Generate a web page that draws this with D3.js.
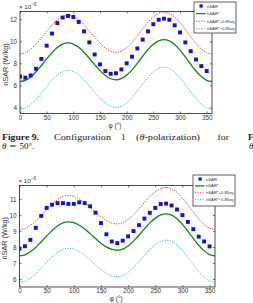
<!DOCTYPE html>
<html>
<head>
<meta charset="utf-8">
<script src="https://cdn.jsdelivr.net/npm/d3@7/dist/d3.min.js"></script>
<style>
  body { margin: 0; background: #fff; }
  svg { display: block; }
  .tick text { font-family: "Liberation Sans", Arial, sans-serif; font-size: 6.3px; fill: #333; }
</style>
</head>
<body>
<div id="page"></div>
<script>
// ======================================================================================================
// values (units of 1e-6 W/kg)
const phi = [0, 10, 20, 30, 40, 50, 60, 70, 80, 90, 100, 110, 120, 130, 140, 150, 160, 170, 180,
             190, 200, 210, 220, 230, 240, 250, 260, 270, 280, 290, 300, 310, 320, 330, 340, 350, 360];
const xTicks = [0, 50, 100, 150, 200, 250, 300, 350];
const legendLabels = ["nSAR", "nSAR*", "nSAR*+0.85\u03c3", "nSAR*\u22120.85\u03c3"];

// Figure 9 (top panel)
const topTicksY = [4, 6, 8, 10, 12];
const topMeas = [6.8, 6.7, 6.9, 7.5, 8.4, 9.6, 10.7, 11.65, 12.15, 12.3, 12.2, 11.75, 10.9, 9.9, 8.8, 7.9, 7.3, 7.05,
                 7.1, 7.45, 8.0, 8.6, 9.35, 10.15, 10.9, 11.55, 11.95, 12.05, 11.95, 11.45, 10.8, 9.9, 9.1, 8.35, 7.75, 7.3];
const topMean = [6.35, 6.46, 6.76, 7.23, 7.8, 8.4, 8.97, 9.44, 9.75, 9.85, 9.75, 9.46, 9.01, 8.45, 7.88, 7.34, 6.89, 6.6, 6.5,
                 6.61, 6.93, 7.41, 8.01, 8.64, 9.24, 9.72, 10.04, 10.15, 10.04, 9.7, 9.2, 8.58, 7.92, 7.3, 6.8, 6.46, 6.35];
const topUpper = [8.85, 8.96, 9.26, 9.73, 10.3, 10.9, 11.47, 11.94, 12.25, 12.35, 12.25, 11.96, 11.51, 10.95, 10.38, 9.84, 9.39, 9.1, 9.0,
                  9.11, 9.43, 9.91, 10.51, 11.14, 11.74, 12.22, 12.54, 12.65, 12.54, 12.2, 11.7, 11.08, 10.42, 9.8, 9.3, 8.96, 8.85];
const topLower = [3.85, 3.96, 4.26, 4.73, 5.3, 5.9, 6.47, 6.94, 7.25, 7.35, 7.25, 6.96, 6.51, 5.95, 5.38, 4.84, 4.39, 4.1, 4.0,
                  4.11, 4.43, 4.91, 5.51, 6.14, 6.74, 7.22, 7.54, 7.65, 7.54, 7.2, 6.7, 6.08, 5.42, 4.8, 4.3, 3.96, 3.85];

// second panel (below the caption)
const botTicksY = [6, 7, 8, 9, 10, 11];
const botMeas = [7.9, 8.05, 8.45, 9.2, 9.95, 10.45, 10.65, 10.75, 10.75, 10.7, 10.7, 10.8, 10.75, 10.55, 10.15, 9.5, 8.8, 8.35,
                 8.25, 8.4, 8.67, 9.0, 9.37, 9.78, 10.14, 10.45, 10.69, 10.72, 10.6, 10.35, 10.0, 9.57, 9.12, 8.65, 8.35, 8.04];
const botMean = [7.45, 7.51, 7.7, 7.98, 8.33, 8.69, 9.04, 9.32, 9.51, 9.57, 9.52, 9.36, 9.13, 8.84, 8.53, 8.24, 8.01, 7.85, 7.8,
                 7.87, 8.07, 8.37, 8.74, 9.14, 9.51, 9.81, 10.01, 10.08, 10.0, 9.77, 9.42, 8.99, 8.54, 8.11, 7.76, 7.53, 7.45];
const botUpper = [9.1, 9.16, 9.35, 9.63, 9.98, 10.34, 10.69, 10.97, 11.16, 11.22, 11.17, 11.01, 10.78, 10.49, 10.18, 9.89, 9.66, 9.5, 9.45,
                  9.52, 9.72, 10.02, 10.39, 10.79, 11.16, 11.46, 11.66, 11.73, 11.65, 11.42, 11.07, 10.64, 10.19, 9.76, 9.41, 9.18, 9.1];
const botLower = [5.8, 5.86, 6.05, 6.33, 6.68, 7.04, 7.39, 7.67, 7.86, 7.92, 7.87, 7.71, 7.48, 7.19, 6.88, 6.59, 6.36, 6.2, 6.15,
                  6.22, 6.42, 6.72, 7.09, 7.49, 7.86, 8.16, 8.36, 8.43, 8.35, 8.12, 7.77, 7.34, 6.89, 6.46, 6.11, 5.88, 5.8];

const colMeas = "#1010e6", colMean = "#12871a", colUpper = "#f0232b", colLower = "#25c2c4";
const sansFont = "'Liberation Sans', Arial, sans-serif";
const serifFont = "'Liberation Serif', 'DejaVu Serif', serif";

const svg = d3.select("#page").append("svg")
    .attr("width", 253)
    .attr("height", 303);
svg.append("rect").attr("width", 253).attr("height", 303).attr("fill", "#fff");

// ======================================================================================================
function drawPanel(p) {
    const g = svg.append("g");
    const x = d3.scaleLinear().domain([0, 360]).range([p.left, p.right]);
    const y = d3.scaleLinear().domain(p.yDomain).range([p.bottom, p.top]);

    const clipId = "clip" + p.id;
    g.append("clipPath").attr("id", clipId)
        .append("rect")
        .attr("x", p.left).attr("y", p.top)
        .attr("width", p.right - p.left).attr("height", p.bottom - p.top);

    const plot = g.append("g").attr("clip-path", "url(#" + clipId + ")");
    const line = d3.line()
        .x((d, i) => x(phi[i]))
        .y((d) => y(d))
        .curve(d3.curveCatmullRom);

    plot.append("path").attr("d", line(p.upper))
        .attr("fill", "none").attr("stroke", colUpper).attr("stroke-width", 1)
        .attr("stroke-dasharray", "1.1,1.4");
    plot.append("path").attr("d", line(p.lower))
        .attr("fill", "none").attr("stroke", colLower).attr("stroke-width", 1)
        .attr("stroke-dasharray", "1.1,1.4");
    plot.append("path").attr("d", line(p.mean))
        .attr("fill", "none").attr("stroke", colMean).attr("stroke-width", 1.3);

    const sq = 3.9;
    plot.selectAll("rect.meas")
        .data(p.meas)
        .enter()
        .append("rect")
        .attr("x", (d, i) => x(phi[i]) - sq / 2)
        .attr("y", (d) => y(d) - sq / 2)
        .attr("width", sq).attr("height", sq)
        .attr("fill", colMeas);

    // axes, matlab style: ticks inside on all four sides
    g.append("g")
        .attr("transform", "translate(0," + p.bottom + ")")
        .call(d3.axisBottom(x).tickValues(xTicks).tickSizeInner(-2).tickSizeOuter(0).tickPadding(1.8));
    g.append("g")
        .attr("transform", "translate(" + p.left + ",0)")
        .call(d3.axisLeft(y).tickValues(p.yTicks).tickFormat(d3.format("d"))
            .tickSizeInner(-2).tickSizeOuter(0).tickPadding(3));
    g.append("g")
        .attr("transform", "translate(0," + p.top + ")")
        .call(d3.axisTop(x).tickValues(xTicks).tickSizeInner(-2).tickSizeOuter(0).tickFormat(""));
    g.append("g")
        .attr("transform", "translate(" + p.right + ",0)")
        .call(d3.axisRight(y).tickValues(p.yTicks).tickSizeInner(-2).tickSizeOuter(0).tickFormat(""));
    g.selectAll(".domain").remove();
    g.selectAll(".tick line").attr("stroke", "#222").attr("stroke-width", 0.6);

    g.append("rect")
        .attr("x", p.left).attr("y", p.top)
        .attr("width", p.right - p.left).attr("height", p.bottom - p.top)
        .attr("fill", "none").attr("stroke", "#222").attr("stroke-width", 0.8);

    // exponent label
    const ex = g.append("text")
        .attr("x", p.left - 1).attr("y", p.top - 3)
        .attr("font-family", sansFont).attr("font-size", 6.2).attr("fill", "#333");
    ex.append("tspan").text("\u00d7 10");
    ex.append("tspan").attr("dy", -2.6).attr("font-size", 4.6).text("\u22126");

    // axis titles
    g.append("text")
        .attr("x", (p.left + p.right) / 2 - 1).attr("y", p.bottom + 14)
        .attr("text-anchor", "middle")
        .attr("font-family", sansFont).attr("font-size", 6.5).attr("fill", "#333")
        .text("\u03c6 (\u00b0)");
    g.append("text")
        .attr("transform", "translate(" + (p.left - 12.5) + "," + ((p.top + p.bottom) / 2 + 2) + ") rotate(-90)")
        .attr("text-anchor", "middle")
        .attr("font-family", sansFont).attr("font-size", 7.3).attr("fill", "#333")
        .text("nSAR (W/kg)");

    // legend
    const lg = g.append("g");
    lg.append("rect")
        .attr("x", p.legend.x).attr("y", p.legend.y)
        .attr("width", p.legend.w).attr("height", p.legend.h)
        .attr("fill", "#fff").attr("stroke", "#222").attr("stroke-width", 0.7);
    const styles = [
        {type: "sq", color: colMeas},
        {type: "line", color: colMean, dash: null, w: 1.3},
        {type: "line", color: colUpper, dash: "1.1,1.4", w: 1},
        {type: "line", color: colLower, dash: "1.1,1.4", w: 1}
    ];
    legendLabels.forEach((lab, i) => {
        const ry = p.legend.y + 4 + i * p.legend.step;
        const s = styles[i];
        if (s.type === "sq") {
            lg.append("rect").attr("x", p.legend.x + 5.5).attr("y", ry - 1.6)
                .attr("width", 3.2).attr("height", 3.2).attr("fill", s.color);
        } else {
            lg.append("line")
                .attr("x1", p.legend.x + 2).attr("x2", p.legend.x + 11.5)
                .attr("y1", ry).attr("y2", ry)
                .attr("stroke", s.color).attr("stroke-width", s.w)
                .attr("stroke-dasharray", s.dash);
        }
        const t = lg.append("text")
            .attr("x", p.legend.x + 13).attr("y", ry + 1.5)
            .attr("font-family", sansFont).attr("font-size", 4.2).attr("fill", "#333")
            .text(lab);
        if (i >= 2) {
            t.append("tspan").attr("dy", 1).attr("font-size", 3).text("S");
        }
    });
}

drawPanel({
    id: "A", left: 20, right: 212, top: 11.5, bottom: 113.5,
    yDomain: [3.45, 12.7], yTicks: topTicksY,
    meas: topMeas, mean: topMean, upper: topUpper, lower: topLower,
    legend: {x: 194, y: 2, w: 42, h: 31, step: 7.6}
});

drawPanel({
    id: "B", left: 19.5, right: 215, top: 185.5, bottom: 287,
    yDomain: [5.5, 11.85], yTicks: botTicksY,
    meas: botMeas, mean: botMean, upper: botUpper, lower: botLower,
    legend: {x: 193, y: 175, w: 42, h: 31, step: 6.9}
});

// ======================================================================================================
// caption between the panels: justified line, one word group at a time
const capSize = 9;
const capWords = [
    {t: "Figure 9.", x: 2, w: 37, bold: true},
    {t: "Configuration", x: 54, w: 57},
    {t: "1", x: 121, w: 4.6},
    {t: "(\u03b8-polarization)", x: 136, w: 64},
    {t: "for", x: 217.5, w: 11.5}
];
const capLine = svg.append("g");
capWords.forEach((c) => {
    const t = capLine.append("text")
        .attr("x", c.x).attr("y", 140)
        .attr("font-family", serifFont).attr("font-size", capSize).attr("fill", "#222")
        .attr("font-weight", c.bold ? "bold" : null)
        .attr("textLength", c.w).attr("lengthAdjust", "spacingAndGlyphs");
    if (c.t.indexOf("\u03b8") >= 0) {
        t.append("tspan").text("(");
        t.append("tspan").attr("font-style", "italic").text("\u03b8");
        t.append("tspan").text("-polarization)");
    } else {
        t.text(c.t);
    }
});

const cap2 = svg.append("g");
cap2.append("text").attr("x", 2).attr("y", 149)
    .attr("font-family", serifFont).attr("font-size", capSize).attr("font-style", "italic").attr("fill", "#222")
    .text("\u03b8");
cap2.append("text").attr("x", 9.3).attr("y", 149)
    .attr("font-family", serifFont).attr("font-size", capSize).attr("fill", "#222")
    .attr("textLength", 7).attr("lengthAdjust", "spacingAndGlyphs")
    .text("=");
cap2.append("text").attr("x", 19.5).attr("y", 149)
    .attr("font-family", serifFont).attr("font-size", capSize).attr("fill", "#222")
    .text("50\u00b0.");

// start of the neighbouring column, clipped by the page edge
svg.append("text").attr("x", 248).attr("y", 140)
    .attr("font-family", serifFont).attr("font-size", capSize).attr("font-weight", "bold").attr("fill", "#222")
    .text("Fig");
svg.append("text").attr("x", 249).attr("y", 149)
    .attr("font-family", serifFont).attr("font-size", capSize).attr("font-style", "italic").attr("fill", "#222")
    .text("\u03b8");
</script>
</body>
</html>
